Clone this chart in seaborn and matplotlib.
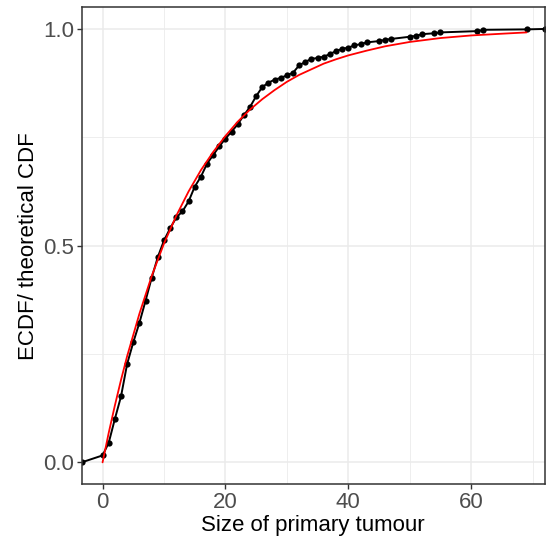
import numpy as np
import pandas as pd
import seaborn as sns
import matplotlib.pyplot as plt

# ECDF of tumour size
size = [-3.4, 0, 1, 2, 3, 4, 5, 6, 7, 8, 9, 10, 11, 12, 13, 14, 15, 16, 17, 18,
        19, 20, 21, 22, 23, 24, 25, 26, 27, 28, 29, 30, 31, 32, 33, 34, 35, 36,
        37, 38, 39, 40, 41, 42, 43, 45, 46, 47, 50, 51, 52, 54, 55, 61, 62, 69, 72]
ecdf = [0.0, 0.016, 0.045, 0.100, 0.152, 0.227, 0.277, 0.322, 0.373, 0.426,
        0.474, 0.512, 0.540, 0.565, 0.579, 0.602, 0.636, 0.659, 0.689, 0.709,
        0.729, 0.747, 0.763, 0.780, 0.801, 0.820, 0.845, 0.866, 0.876, 0.883,
        0.887, 0.893, 0.899, 0.916, 0.924, 0.931, 0.933, 0.936, 0.942, 0.949,
        0.954, 0.957, 0.962, 0.965, 0.969, 0.972, 0.975, 0.977, 0.982, 0.984,
        0.988, 0.990, 0.992, 0.995, 0.998, 0.999, 1.0]

# theoretical CDF (red curve)
theo_x = [0, 1, 2, 3, 4, 6, 8, 10, 12, 14, 16, 18, 20, 22, 24, 26, 28, 30,
          32, 34, 36, 38, 40, 43, 46, 50, 55, 60, 65, 69]
theo_y = [0.0, 0.068, 0.131, 0.190, 0.245, 0.343, 0.430, 0.505, 0.569, 0.625,
          0.674, 0.716, 0.753, 0.786, 0.814, 0.838, 0.859, 0.878, 0.894, 0.907,
          0.920, 0.930, 0.939, 0.950, 0.960, 0.970, 0.979, 0.985, 0.989, 0.992]

emp = pd.DataFrame({'size': size, 'ecdf': ecdf})
theo = pd.DataFrame({'size': theo_x, 'cdf': theo_y})

sns.set_theme(style='white')
plt.rcParams['font.family'] = ['Liberation Sans', 'DejaVu Sans']

fig = plt.figure(figsize=(5.51, 5.39), dpi=100)
ax = fig.add_axes([0.148, 0.102, 0.841, 0.8845])

sns.lineplot(data=emp, x='size', y='ecdf', color='black', lw=1.4,
             marker='o', markersize=4.5, markeredgewidth=0, ax=ax)
sns.lineplot(data=theo, x='size', y='cdf', color='red', lw=1.3, ax=ax)

ax.set_xlim(-3.42, 72.0)
ax.set_ylim(-0.05, 1.05)
ax.set_xticks([0, 20, 40, 60])
ax.set_yticks([0.0, 0.5, 1.0])
ax.set_yticklabels(['0.0', '0.5', '1.0'])
ax.set_xticks([10, 30, 50, 70], minor=True)
ax.set_yticks([0.25, 0.75], minor=True)
ax.grid(True, which='major', color='#EBEBEB', lw=1.1)
ax.grid(True, which='minor', color='#EBEBEB', lw=0.6)
ax.set_axisbelow(True)
for s in ax.spines.values():
    s.set_color('#333333')
    s.set_linewidth(1.1)
ax.tick_params(which='major', length=3.5, width=1.0, color='#333333',
               labelsize=16, labelcolor='#4D4D4D', pad=2,
               bottom=True, left=True)
ax.tick_params(which='minor', length=0)
ax.set_xlabel('Size of primary tumour', fontsize=16, color='black', labelpad=2)
ax.set_ylabel('ECDF/ theoretical CDF', fontsize=16, color='black', labelpad=3)

fig.savefig('out.png', dpi=100)
